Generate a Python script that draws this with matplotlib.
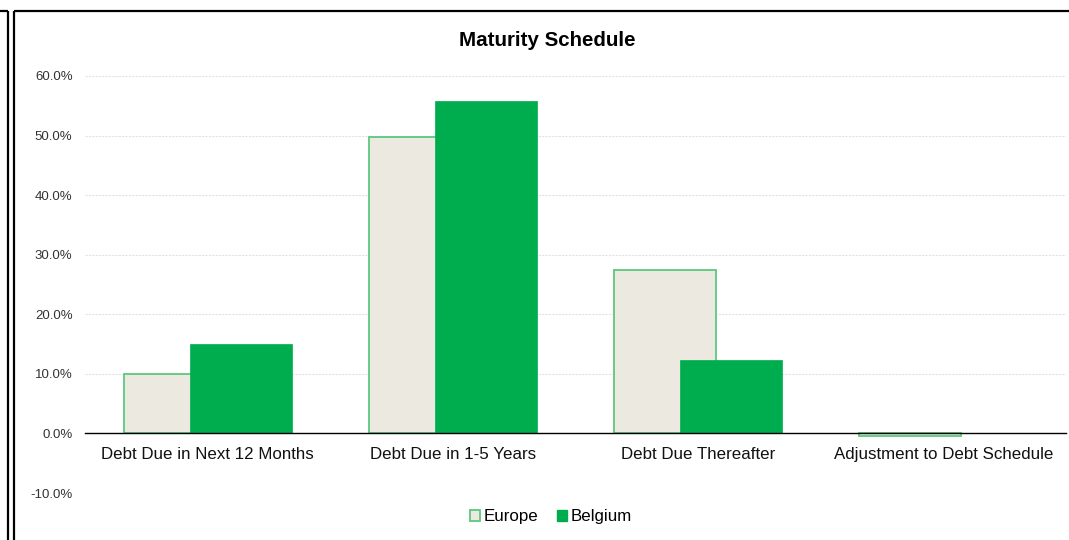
import matplotlib
matplotlib.use('Agg')
import matplotlib.pyplot as plt
import numpy as np
from matplotlib.lines import Line2D
from matplotlib.patches import Patch

plt.rcParams['font.family'] = ['Liberation Sans', 'DejaVu Sans']

categories = ['Debt Due in Next 12 Months', 'Debt Due in 1-5 Years',
              'Debt Due Thereafter', 'Adjustment to Debt Schedule']
europe = [10.0, 49.7, 27.4, -0.5]
belgium = [15.0, 55.8, 12.4, 0.0]
yticks = [-10, 0, 10, 20, 30, 40, 50, 60]

W, H = 1069, 540
fig = plt.figure(figsize=(W / 100, H / 100), dpi=100)
ax = fig.add_axes([85 / W, 1 - 493 / H, (1066 - 85) / W, (493 - 76) / H])

x = np.arange(len(categories))
bw = 0.415
off = 0.135
ax.bar(x - off, europe, bw, color='#ECE9E0', edgecolor='#5CC880', linewidth=1.3, zorder=2)
ax.bar(x + off, belgium, bw, color='#00AD4E', edgecolor='#00AD4E', linewidth=0.5, zorder=3)

ax.set_xlim(-0.5, 3.5)
ax.set_ylim(-10, 60)
ax.set_yticks(yticks)
ax.set_yticklabels(['%.1f%%' % v for v in yticks])
ax.yaxis.grid(True, color='#E2E2E2', linestyle=(0, (2, 1)), linewidth=0.8, zorder=0)
ax.set_xticks(x)
ax.set_xticklabels(categories)
ax.tick_params(axis='y', length=0, pad=9, labelsize=9.5, labelcolor='#333333')
ax.tick_params(axis='x', length=0, pad=10, labelsize=12.2, labelcolor='#111111')

for s in ['left', 'right', 'top']:
    ax.spines[s].set_visible(False)
ax.spines['bottom'].set_position(('data', 0))
ax.spines['bottom'].set_color('black')
ax.spines['bottom'].set_linewidth(1.0)
ax.spines['bottom'].set_zorder(4)

fig.text(547.5 / W, 1 - 41 / H, 'Maturity Schedule', ha='center', va='center',
         fontsize=14.8, fontweight='bold')

handles = [Patch(facecolor='#ECE9E0', edgecolor='#5CC880', linewidth=1.3),
           Patch(facecolor='#00AD4E', edgecolor='#00AD4E')]
fig.legend(handles, ['Europe', 'Belgium'], loc='center', bbox_to_anchor=(551 / W, 1 - 517 / H),
           ncol=2, frameon=False, fontsize=12.2, handlelength=0.6, handleheight=0.6,
           handletextpad=0.2, columnspacing=1.1)

# chart borders
lw = 1.6
def fl(xs, ys):
    fig.add_artist(Line2D([v / W for v in xs], [1 - v / H for v in ys],
                          color='black', linewidth=lw, solid_capstyle='butt'))
fl([0, 8], [10.5, 10.5])
fl([8, 8], [10.5, 540])
fl([14, 1069], [10.5, 10.5])
fl([14, 14], [10.5, 540])

fig.savefig('out.png', dpi=100)
